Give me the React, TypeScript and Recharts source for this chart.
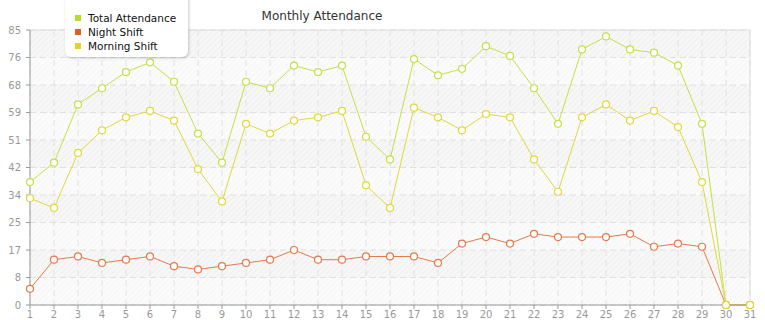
import React from 'react';
import { LineChart, Line, XAxis, YAxis, CartesianGrid, ReferenceLine } from 'recharts';

const days = [1,2,3,4,5,6,7,8,9,10,11,12,13,14,15,16,17,18,19,20,21,22,23,24,25,26,27,28,29,30,31];
const totalAttendance = [38,44,62,67,72,75,69,53,44,69,67,74,72,74,52,45,76,71,73,80,77,67,56,79,83,79,78,74,56,0,0];
const nightShift = [5,14,15,13,14,15,12,11,12,13,14,17,14,14,15,15,15,13,19,21,19,22,21,21,21,22,18,19,18,0,0];
const morningShift = [33,30,47,54,58,60,57,42,32,56,53,57,58,60,37,30,61,58,54,59,58,45,35,58,62,57,60,55,38,0,0];
const yTicks = [0,8.5,17,25.5,34,42.5,51,59.5,68,76.5,85];

const series = [
  { key: 'total', name: 'Total Attendance', values: totalAttendance, line: '#c6df45', marker: '#b9dc2c' },
  { key: 'night', name: 'Night Shift', values: nightShift, line: '#e8784a', marker: '#e0602c' },
  { key: 'morning', name: 'Morning Shift', values: morningShift, line: '#e2d839', marker: '#e0d42a' },
];

const data = days.map((d, i) => ({
  day: d,
  total: totalAttendance[i],
  night: nightShift[i],
  morning: morningShift[i],
}));

const FONT = '"DejaVu Sans", Verdana, sans-serif';

export default function App() {
  return (
    <div style={{ position: 'absolute', left: 0, top: 0, width: 765, height: 320, background: '#fff', fontFamily: FONT, overflow: 'hidden' }}>
      <LineChart width={765} height={320} data={data} margin={{ top: 30, right: 15, bottom: 0, left: 0 }}>
        <defs>
          <pattern id="hatchA" width="4" height="4" patternUnits="userSpaceOnUse" patternTransform="rotate(45)">
            <rect width="4" height="4" fill="#f7f7f7" />
            <line x1="0" y1="0" x2="0" y2="4" stroke="#e9e9e9" strokeWidth="1.1" />
          </pattern>
          <pattern id="hatchB" width="4" height="4" patternUnits="userSpaceOnUse" patternTransform="rotate(45)">
            <rect width="4" height="4" fill="#fbfbfb" />
            <line x1="0" y1="0" x2="0" y2="4" stroke="#f2f2f2" strokeWidth="1.1" />
          </pattern>
        </defs>
        <CartesianGrid
          stroke="#e0e0e0"
          strokeDasharray="6 4"
          horizontalFill={['url(#hatchA)', 'url(#hatchB)']}
          fillOpacity={1}
        />
        <ReferenceLine y={85} stroke="#dedede" strokeWidth={1} />
        <ReferenceLine x={31} stroke="#dedede" strokeWidth={1} />
        <XAxis
          dataKey="day"
          type="number"
          domain={[1, 31]}
          ticks={days}
          interval={0}
          height={15}
          tickSize={4}
          tickMargin={2}
          stroke="#999"
          tick={{ fill: '#999', fontSize: 10, fontFamily: FONT }}
        />
        <YAxis
          type="number"
          domain={[0, 85]}
          ticks={yTicks}
          interval={0}
          width={30}
          tickSize={4}
          tickMargin={5}
          stroke="#999"
          tickFormatter={(v: number) => String(Math.floor(v))}
          tick={{ fill: '#999', fontSize: 10, fontFamily: FONT }}
        />
        {series.map((s) => (
          <Line
            key={s.key}
            type="linear"
            dataKey={s.key}
            name={s.name}
            stroke={s.line}
            strokeWidth={1}
            dot={{ r: 3.5, fill: '#fff', stroke: s.line, strokeWidth: 1.2 }}
            activeDot={false}
            isAnimationActive={false}
          />
        ))}
      </LineChart>
      <div style={{ position: 'absolute', left: 0, width: 644, top: 8, textAlign: 'center', fontSize: 12, color: '#333', lineHeight: '16px' }}>
        Monthly Attendance
      </div>
      <div style={{ position: 'absolute', left: 65, top: -6, width: 123, height: 63, background: '#fff', borderRadius: 6, boxShadow: '1px 1px 3px rgba(0,0,0,0.22)' }}>
        {series.map((s, i) => (
          <div key={s.key} style={{ position: 'absolute', left: 10, top: 17 + i * 14, height: 14, display: 'flex', alignItems: 'center' }}>
            <div style={{ width: 6, height: 6, background: s.marker, marginRight: 7 }} />
            <span style={{ fontSize: 10.5, color: '#111', whiteSpace: 'nowrap', lineHeight: '14px' }}>{s.name}</span>
          </div>
        ))}
      </div>
    </div>
  );
}
